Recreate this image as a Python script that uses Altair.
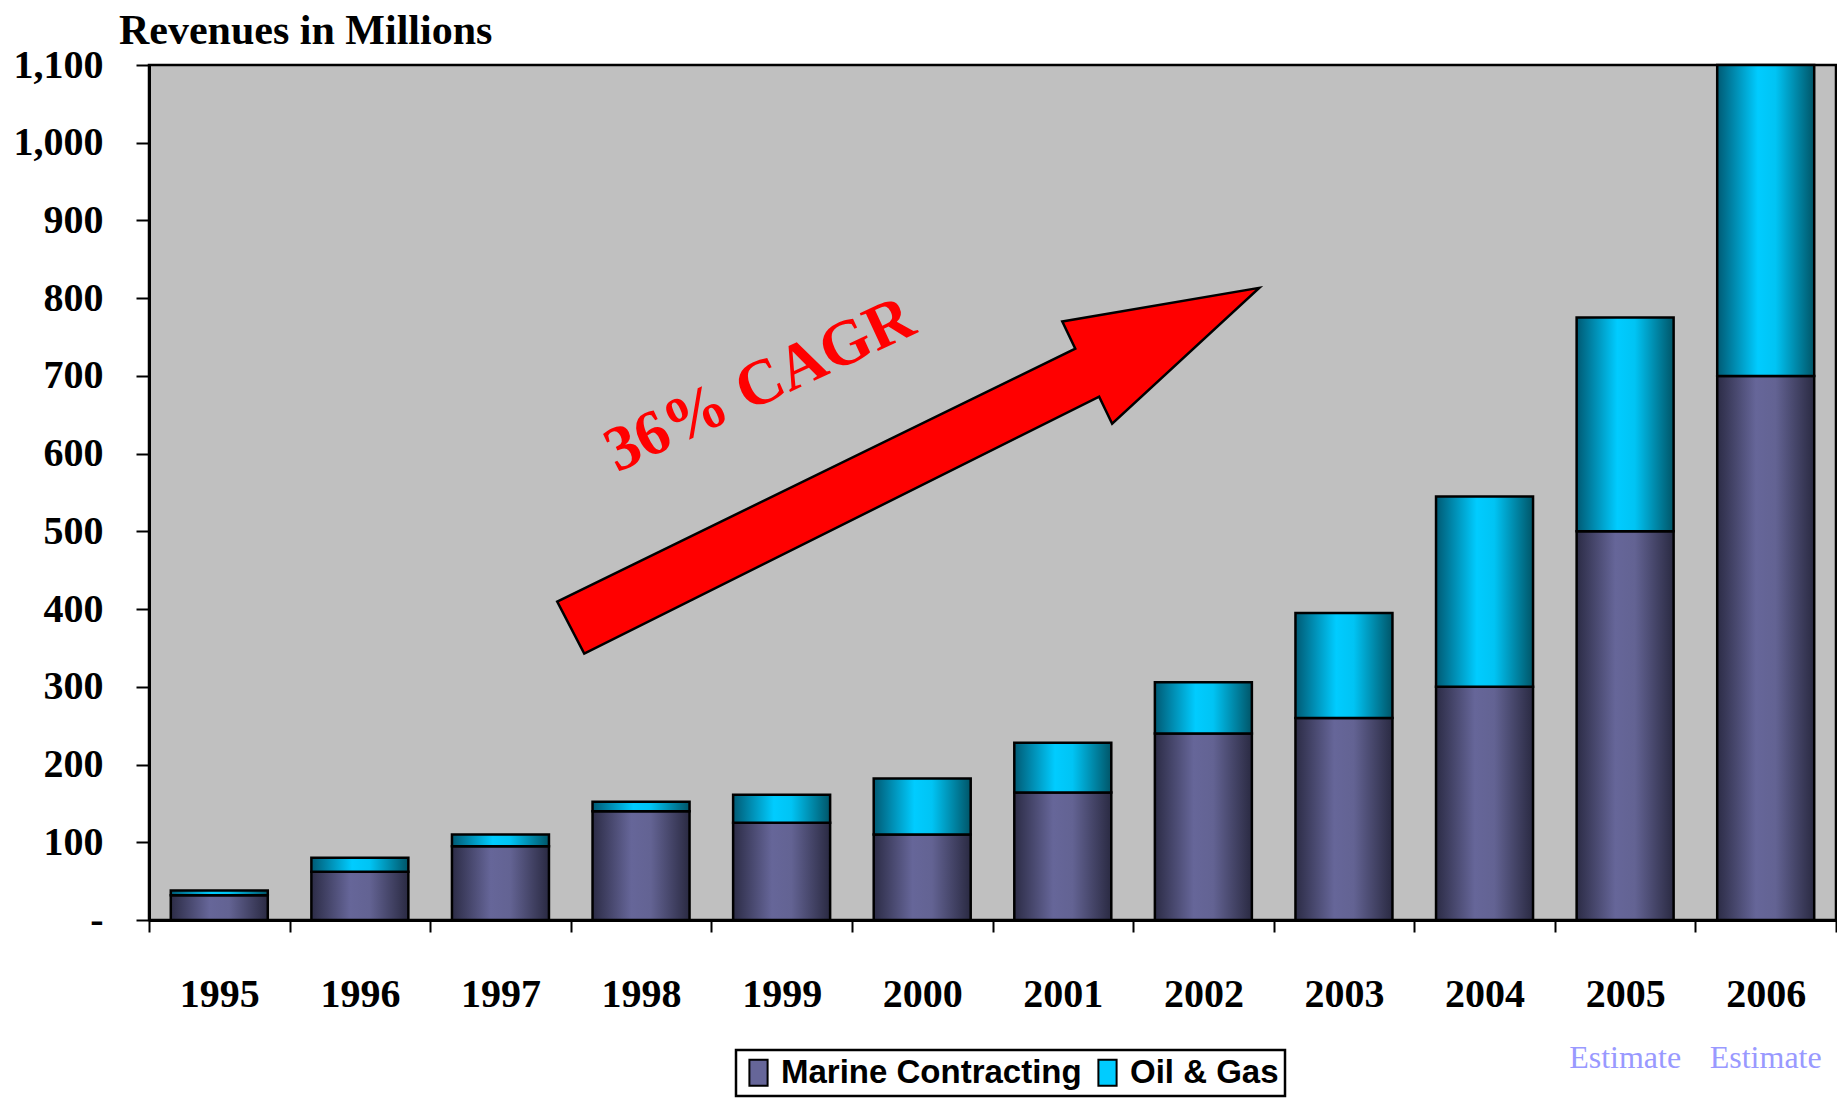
import altair as alt
import pandas as pd

# ---- data ----
years = ["1995", "1996", "1997", "1998", "1999", "2000",
         "2001", "2002", "2003", "2004", "2005", "2006"]
marine = [32, 62, 95, 140, 125, 110, 164, 240, 260, 300, 500, 700]
oil_gas = [6, 18, 15, 12, 36, 72, 64, 66, 135, 245, 275, 400]
series_names = ["Marine Contracting", "Oil & Gas"]
y_ticks = list(range(0, 1101, 100))
estimate_years = ["2005", "2006"]
estimate_label = "Estimate"
cagr_label = "36% CAGR"
title_text = "Revenues in Millions"

# annotation anchors (in data space)
arrow_anchor_year = ["2000"]
arrow_anchor_value = [578]
cagr_anchor_year = ["1999"]
cagr_anchor_value = [688]

rows = []
for y, m, o in zip(years, marine, oil_gas):
    rows.append({"year": y, "series": series_names[0], "value": m, "ord": 0})
    rows.append({"year": y, "series": series_names[1], "value": o, "ord": 1})
df = pd.DataFrame(rows)

arrow_df = pd.DataFrame({"year": arrow_anchor_year, "value": arrow_anchor_value})
cagr_df = pd.DataFrame({"year": cagr_anchor_year, "value": cagr_anchor_value, "label": [cagr_label]})
est_df = pd.DataFrame({"year": estimate_years, "label": [estimate_label] * len(estimate_years)})

W, H = 1687, 855

grad_marine = {
    "gradient": "linear", "x1": 0, "x2": 1, "y1": 0, "y2": 0,
    "stops": [
        {"offset": 0, "color": "#2c2c46"},
        {"offset": 0.4, "color": "#666699"},
        {"offset": 0.6, "color": "#636393"},
        {"offset": 1, "color": "#2a2a42"},
    ],
}
grad_oil = {
    "gradient": "linear", "x1": 0, "x2": 1, "y1": 0, "y2": 0,
    "stops": [
        {"offset": 0, "color": "#005a74"},
        {"offset": 0.42, "color": "#00ccff"},
        {"offset": 0.6, "color": "#00c4f4"},
        {"offset": 1, "color": "#005568"},
    ],
}

x_enc = alt.X(
    "year:N",
    scale=alt.Scale(domain=years, paddingInner=0, paddingOuter=0),
    axis=alt.Axis(
        title=None, labelAngle=0, tickBand="extent", tickSize=12, tickWidth=2,
        tickColor="black", domainColor="black", domainWidth=3,
        labelFont="Liberation Serif", labelFontWeight="bold", labelFontSize=40,
        labelColor="black", labelPadding=42, grid=False,
    ),
)

y_scale = alt.Scale(domain=[0, 1100], nice=False)

bars = alt.Chart(df).mark_bar(
    stroke="black", strokeWidth=2.5, width={"band": 0.69}, opacity=1
).encode(
    x=x_enc,
    y=alt.Y(
        "value:Q", stack="zero", scale=y_scale,
        axis=alt.Axis(
            title=None, values=y_ticks, tickSize=13, tickWidth=2, tickColor="black",
            domainColor="black", domainWidth=3, grid=False,
            labelFont="Liberation Serif", labelFontWeight="bold", labelFontSize=40,
            labelColor="black", labelPadding=33,
            labelExpr="datum.value === 0 ? '-' : format(datum.value, ',')",
        ),
    ),
    fill=alt.Fill(
        "series:N",
        scale=alt.Scale(domain=series_names, range=["#666699", "#00ccff"]),
        legend=alt.Legend(
            title=None, orient="none", legendX=587, legendY=985, direction="horizontal",
            symbolType="M-0.7,-1H0.7V1H-0.7Z", symbolSize=676,
            symbolStrokeColor="black", symbolStrokeWidth=2,
            labelFont="Liberation Sans", labelFontWeight="bold", labelFontSize=33,
            labelColor="black", labelOffset=6, columnPadding=9, labelLimit=600,
            strokeColor="black", fillColor="white", padding=6,
        ),
        condition=[
            {"test": "datum.series === 'Marine Contracting'", "value": grad_marine},
            {"test": "datum.series === 'Oil & Gas'", "value": grad_oil},
        ],
    ),
    order=alt.Order("ord:Q"),
)

arrow_path = ("M -1.0 0.373 L 0.476 -0.348 L 0.439 -0.425 L 1.0 -0.521 "
              "L 0.581 -0.134 L 0.544 -0.211 L -0.923 0.521 Z")

arrow = alt.Chart(arrow_df).mark_point(
    shape=arrow_path, size=492804, filled=True, fill="#ff0000",
    stroke="black", strokeWidth=2.5, opacity=1, xOffset=-14,
).encode(
    x=alt.X("year:N", scale=alt.Scale(domain=years)),
    y=alt.Y("value:Q", scale=y_scale),
)

cagr = alt.Chart(cagr_df).mark_text(
    font="Liberation Serif", fontWeight="bold", fontSize=64, color="#ff0000",
    angle=335, align="center", baseline="middle", xOffset=-22,
).encode(
    x=alt.X("year:N", scale=alt.Scale(domain=years)),
    y=alt.Y("value:Q", scale=y_scale),
    text="label:N",
)

estimates = alt.Chart(est_df).mark_text(
    font="Liberation Serif", fontSize=32, color="#9999ff",
    align="center", baseline="middle",
).encode(
    x=alt.X("year:N", scale=alt.Scale(domain=years)),
    y=alt.value(H + 138),
    text="label:N",
)

chart = alt.layer(bars, arrow, cagr, estimates).properties(
    width=W, height=H,
    background="white",
    title=alt.TitleParams(
        title_text, anchor="start", frame="group", dx=-30,
        font="Liberation Serif", fontWeight="bold", fontSize=42, color="black",
        offset=-8,
    ),
    padding={"left": 5, "top": 2, "right": 0, "bottom": 0},
).configure_view(
    fill="#c0c0c0", stroke="black", strokeWidth=2.5,
).configure_legend(
    strokeWidth=2.5,
)

chart.save("out.html", embed_options={"renderer": "svg", "actions": False})
